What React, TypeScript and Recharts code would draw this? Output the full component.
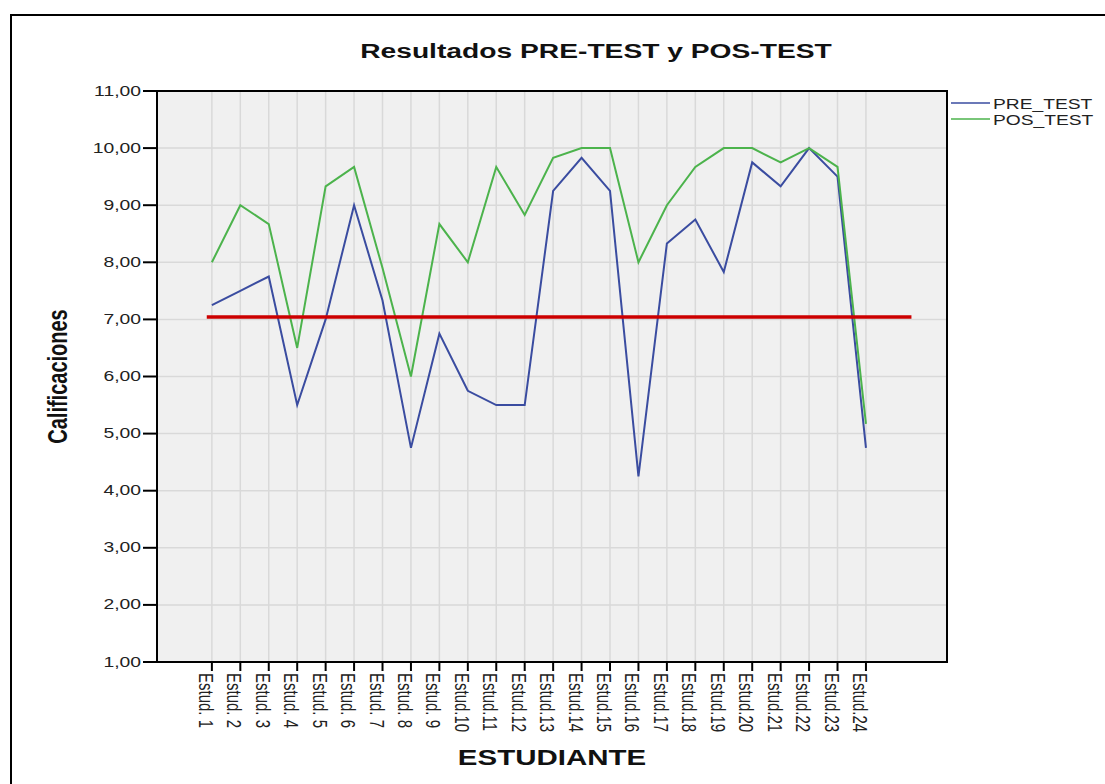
import { CartesianGrid, Label, Legend, Line, LineChart, ReferenceArea, ReferenceLine, XAxis, YAxis } from 'recharts';

// Calificaciones por estudiante
const students = [
  'Estud. 1', 'Estud. 2', 'Estud. 3', 'Estud. 4', 'Estud. 5', 'Estud. 6',
  'Estud. 7', 'Estud. 8', 'Estud. 9', 'Estud.10', 'Estud.11', 'Estud.12',
  'Estud.13', 'Estud.14', 'Estud.15', 'Estud.16', 'Estud.17', 'Estud.18',
  'Estud.19', 'Estud.20', 'Estud.21', 'Estud.22', 'Estud.23', 'Estud.24',
];
const preTest = [7.25, 7.5, 7.75, 5.5, 7.0, 9.0, 7.33, 4.75, 6.75, 5.75, 5.5, 5.5, 9.25, 9.83, 9.25, 4.25, 8.33, 8.75, 7.83, 9.75, 9.33, 10.0, 9.5, 4.75];
const posTest = [8.0, 9.0, 8.67, 6.5, 9.33, 9.67, 7.9, 6.0, 8.67, 8.0, 9.67, 8.83, 9.83, 10.0, 10.0, 8.0, 9.0, 9.67, 10.0, 10.0, 9.75, 10.0, 9.67, 5.17];
const yTicks = [1, 2, 3, 4, 5, 6, 7, 8, 9, 10, 11];
const xTicks = [1, 2, 3, 4, 5, 6, 7, 8, 9, 10, 11, 12, 13, 14, 15, 16, 17, 18, 19, 20, 21, 22, 23, 24];
const seriesOrder = ['PRE_TEST', 'POS_TEST'];

// linea roja de aprobación (7,00), desde antes de Estud.1 hasta pasado Estud.24
const passMark = 7.04;
const passFrom = 0.82;
const passTo = 25.6;

const X_DOMAIN: [number, number] = [-0.93, 26.85];
const FONT = '"Liberation Sans", Arial, sans-serif';
const SX = 1.38; // the original picture is stretched sideways

const data = students.map((s, i) => ({ idx: i + 1, label: s, PRE_TEST: preTest[i], POS_TEST: posTest[i] }));

function YTick(props: any) {
  const { x, y, payload } = props;
  const txt = Number(payload.value).toFixed(2).replace('.', ',');
  return (
    <text transform={`translate(${x},${y}) scale(${SX},1)`} textAnchor="end" dominantBaseline="central"
      fontFamily={FONT} fontSize={14} fill="#222">
      {txt}
    </text>
  );
}

function XTick(props: any) {
  const { x, y, payload } = props;
  const txt = students[payload.value - 1];
  return (
    <text transform={`translate(${x - 13},${y}) rotate(90) scale(1,${SX})`} textAnchor="start"
      fontFamily={FONT} fontSize={15} fill="#222">
      {txt}
    </text>
  );
}

function LegendBox(props: any) {
  const items = [...(props.payload || [])].sort(
    (a: any, b: any) => seriesOrder.indexOf(a.value) - seriesOrder.indexOf(b.value)
  );
  return (
    <div style={{ fontFamily: FONT }}>
      {items.map((p: any) => (
        <div key={p.value} style={{ display: 'flex', alignItems: 'center', height: 16 }}>
          <svg width={40} height={16}>
            <line x1={0} x2={39} y1={8} y2={8} stroke={p.color} strokeWidth={1.5} />
          </svg>
          <span style={{ marginLeft: 2, fontSize: 15, color: '#222', display: 'inline-block', transform: `scaleX(1.28)`, transformOrigin: 'left center', whiteSpace: 'nowrap' }}>
            {p.value}
          </span>
        </div>
      ))}
    </div>
  );
}

export default function App() {
  return (
    <div style={{ position: 'fixed', left: 0, top: 0, width: 1105, height: 784, overflow: 'hidden', background: '#fff' }}>
      <div style={{ position: 'absolute', left: 10, top: 14, width: 1200, height: 900, border: '2px solid #000' }} />
      <div style={{
        position: 'absolute', left: 596, top: 41, fontFamily: FONT, fontWeight: 'bold', fontSize: 20, lineHeight: '20px',
        whiteSpace: 'nowrap', color: '#111', transform: 'translateX(-50%) scaleX(1.41)',
      }}>
        Resultados PRE-TEST y POS-TEST
      </div>
      <div style={{ position: 'absolute', left: 0, top: 0 }}>
        <LineChart width={1105} height={784} data={data} margin={{ top: 91, right: 158, left: 77, bottom: 12 }}>
          <CartesianGrid fill="#f0f0f0" stroke="#d9d9d9" strokeWidth={1.5} horizontalValues={yTicks} verticalValues={xTicks} />
          <XAxis dataKey="idx" type="number" domain={X_DOMAIN} ticks={xTicks} interval={0} height={110}
            tick={<XTick />} tickSize={9} tickLine={{ stroke: '#000', strokeWidth: 2 }} axisLine={{ stroke: '#000', strokeWidth: 2 }}>
            <Label content={(p: any) => {
              const vb = p.viewBox || { x: 157, y: 662, width: 790 };
              return (
                <text transform={`translate(${vb.x + vb.width / 2},${vb.y + 103}) scale(1.34,1)`} textAnchor="middle"
                  fontFamily={FONT} fontWeight="bold" fontSize={22} fill="#111">ESTUDIANTE</text>
              );
            }} />
          </XAxis>
          <YAxis type="number" domain={[1, 11]} ticks={yTicks} interval={0} width={80}
            tick={<YTick />} tickSize={14} tickLine={{ stroke: '#000', strokeWidth: 2 }} axisLine={{ stroke: '#000', strokeWidth: 2 }}>
            <Label content={(p: any) => {
              const vb = p.viewBox || { x: 77, y: 91, height: 571 };
              return (
                <text transform={`translate(${vb.x - 10},${vb.y + vb.height / 2}) rotate(-90) scale(1,${SX})`} textAnchor="middle"
                  fontFamily={FONT} fontWeight="bold" fontSize={20} fill="#111">Calificaciones</text>
              );
            }} />
          </YAxis>
          <ReferenceArea x1={X_DOMAIN[0]} x2={X_DOMAIN[1]} y1={1} y2={11} fill="none" fillOpacity={0} stroke="#000" strokeWidth={2} />
          <Legend layout="horizontal" verticalAlign="middle" align="center" content={<LegendBox />}
            wrapperStyle={{ left: 951, top: 95, width: 150, height: 32 }} />
          <Line type="linear" dataKey="PRE_TEST" stroke="#3a4ca0" strokeWidth={2} dot={false} isAnimationActive={false} />
          <Line type="linear" dataKey="POS_TEST" stroke="#4cb34c" strokeWidth={2} dot={false} isAnimationActive={false} />
          <ReferenceLine segment={[{ x: passFrom, y: passMark }, { x: passTo, y: passMark }]} stroke="#cc0000" strokeWidth={3.5} />
        </LineChart>
      </div>
    </div>
  );
}
